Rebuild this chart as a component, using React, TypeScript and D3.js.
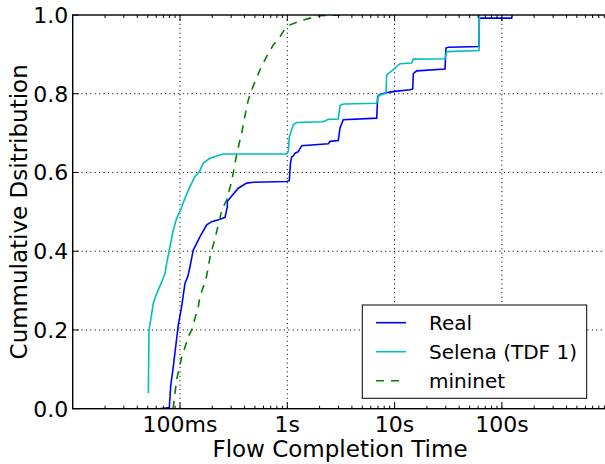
import React from "react";
import * as d3 from "d3";

// ---- data (time in seconds, cumulative fraction) ----
const realTime = [0.0641, 0.0795, 0.0819, 0.0866, 0.0912, 0.0964, 0.1037, 0.1113, 0.118, 0.122, 0.133, 0.1536, 0.1773, 0.1974, 0.236, 0.2627, 0.276, 0.276, 0.2924, 0.3495, 0.4183, 0.482, 0.987, 1.044, 1.07, 1.099, 1.137, 1.18, 1.266, 1.362, 2.411, 2.5, 2.988, 3.098, 3.325, 6.81, 6.96, 7.31, 8.14, 9.06, 10.09, 13.92, 14.75, 14.94, 16.07, 29.5, 30.1, 31.7, 61.2, 61.6, 123.4, 125];
const realCdf = [0, 0.003, 0.058, 0.107, 0.158, 0.213, 0.26, 0.319, 0.335, 0.352, 0.403, 0.437, 0.467, 0.475, 0.481, 0.486, 0.513, 0.526, 0.535, 0.56, 0.573, 0.575, 0.577, 0.579, 0.624, 0.64, 0.642, 0.649, 0.653, 0.668, 0.673, 0.679, 0.681, 0.713, 0.734, 0.738, 0.793, 0.798, 0.802, 0.804, 0.806, 0.81, 0.812, 0.851, 0.858, 0.863, 0.916, 0.918, 0.92, 0.992, 0.992, 1.0];

const selenaTime = [0.0507, 0.0514, 0.0533, 0.0564, 0.0607, 0.0675, 0.0725, 0.0752, 0.0807, 0.0866, 0.0932, 0.1, 0.1113, 0.1239, 0.1379, 0.1513, 0.1649, 0.1904, 0.2198, 0.2532, 0.987, 1.0217, 1.044, 1.06, 1.137, 1.223, 2.165, 2.411, 2.988, 3.098, 3.325, 6.81, 7.05, 7.31, 7.85, 8.32, 8.44, 9.72, 10.83, 11.23, 14.43, 14.94, 29.5, 30.6, 61.2, 61.6];
const selenaCdf = [0.039, 0.2, 0.225, 0.268, 0.293, 0.322, 0.344, 0.37, 0.412, 0.454, 0.484, 0.501, 0.535, 0.564, 0.59, 0.602, 0.624, 0.636, 0.642, 0.647, 0.647, 0.653, 0.69, 0.696, 0.721, 0.727, 0.729, 0.735, 0.736, 0.77, 0.774, 0.776, 0.793, 0.797, 0.799, 0.803, 0.848, 0.861, 0.873, 0.876, 0.878, 0.888, 0.889, 0.907, 0.91, 1.0];

const mininetTime = [0.0855, 0.0866, 0.0932, 0.1037, 0.1195, 0.1285, 0.148, 0.1536, 0.171, 0.1773, 0.1835, 0.1904, 0.212, 0.236, 0.2447, 0.2723, 0.282, 0.303, 0.3256, 0.3377, 0.3624, 0.3758, 0.4183, 0.4331, 0.4658, 0.5566, 0.6427, 0.7404, 0.855, 0.952, 1.06, 1.3135, 1.628, 2.017, 3.1];
const mininetCdf = [0, 0.004, 0.075, 0.13, 0.183, 0.2, 0.259, 0.285, 0.322, 0.338, 0.36, 0.385, 0.433, 0.484, 0.505, 0.53, 0.547, 0.577, 0.624, 0.645, 0.683, 0.7, 0.767, 0.784, 0.81, 0.861, 0.895, 0.924, 0.945, 0.965, 0.975, 0.985, 0.992, 0.998, 1.0];

const xTickValues = [0.1, 1, 10, 100];
const xTickLabels = ["100ms", "1s", "10s", "100s"];
const yTickValues = [0, 0.2, 0.4, 0.6, 0.8, 1.0];
const yTickLabels = ["0.0", "0.2", "0.4", "0.6", "0.8", "1.0"];
const legendLabels = ["Real", "Selena (TDF 1)", "mininet"];

const FONT = "'DejaVu Sans', sans-serif";

export default function App() {
  const W = 605, H = 464;
  const left = 72.7, top = 15, right = 609.2, bottom = 408.7;
  const x = d3.scaleLog().domain([0.01, 1000]).range([left, right]);
  const y = d3.scaleLinear().domain([0, 1]).range([bottom, top]);

  const mk = (ts: number[], ps: number[]) =>
    d3.line<number>().x((_, i) => x(ts[i])).y((_, i) => y(ps[i]))(ts.map((_, i) => i)) || "";

  const series = [
    { path: mk(realTime, realCdf), color: "#0000ff", dash: undefined as string | undefined },
    { path: mk(selenaTime, selenaCdf), color: "#00bfbf", dash: undefined },
    { path: mk(mininetTime, mininetCdf), color: "#008000", dash: "8,7" },
  ];

  const minor: number[] = [];
  for (let d = -2; d <= 2; d++) for (let k = 2; k <= 9; k++) minor.push(k * Math.pow(10, d));

  const lx = 362.3, ly = 305, lw = 224.4, lh = 93.3;

  return (
    <svg width={W} height={H} style={{ position: "absolute", left: 0, top: 0, background: "#fff" }} fontFamily={FONT}>
      <defs>
        <clipPath id="plot">
          <rect x={left} y={top} width={right - left} height={bottom - top} />
        </clipPath>
      </defs>
      <rect x={0} y={0} width={W} height={H} fill="#fff" />
      {/* grid */}
      {xTickValues.map((v) => (
        <line key={"gx" + v} x1={x(v)} x2={x(v)} y1={top} y2={bottom} stroke="#000" strokeWidth={1} strokeDasharray="1.1,3.3" />
      ))}
      {yTickValues.slice(1, -1).map((v) => (
        <line key={"gy" + v} x1={left} x2={right} y1={y(v)} y2={y(v)} stroke="#000" strokeWidth={1} strokeDasharray="1.1,3.3" />
      ))}
      {/* series */}
      <g clipPath="url(#plot)">
        {series.map((s, i) => (
          <path key={i} d={s.path} fill="none" stroke={s.color} strokeWidth={1.6} strokeDasharray={s.dash} />
        ))}
      </g>
      {/* ticks */}
      {minor.map((v) => (
        <g key={"m" + v}>
          <line x1={x(v)} x2={x(v)} y1={bottom} y2={bottom - 3} stroke="#000" strokeWidth={1} />
          <line x1={x(v)} x2={x(v)} y1={top} y2={top + 3} stroke="#000" strokeWidth={1} />
        </g>
      ))}
      {xTickValues.map((v) => (
        <g key={"t" + v}>
          <line x1={x(v)} x2={x(v)} y1={bottom} y2={bottom - 6} stroke="#000" strokeWidth={1} />
          <line x1={x(v)} x2={x(v)} y1={top} y2={top + 6} stroke="#000" strokeWidth={1} />
        </g>
      ))}
      {yTickValues.map((v) => (
        <line key={"yt" + v} x1={left} x2={left + 6} y1={y(v)} y2={y(v)} stroke="#000" strokeWidth={1} />
      ))}
      {/* spines */}
      <rect x={left} y={top} width={right - left} height={bottom - top} fill="none" stroke="#000" strokeWidth={1.4} />
      {/* tick labels */}
      {xTickValues.map((v, i) => (
        <text key={"xl" + v} x={x(v)} y={432} fontSize={22} textAnchor="middle" fill="#000">{xTickLabels[i]}</text>
      ))}
      {yTickValues.map((v, i) => (
        <text key={"yl" + v} x={68.3} y={y(v) + 8} fontSize={22} textAnchor="end" fill="#000">{yTickLabels[i]}</text>
      ))}
      {/* axis labels */}
      <text x={340} y={457} fontSize={23} textAnchor="middle" fill="#000">Flow Completion Time</text>
      <text transform={`translate(27,${(top + bottom) / 2}) rotate(-90)`} fontSize={23} textAnchor="middle" fill="#000">Cummulative Dsitribution</text>
      {/* legend */}
      <rect x={lx} y={ly} width={lw} height={lh} fill="#fff" stroke="#000" strokeWidth={1} />
      {legendLabels.map((lab, i) => {
        const yy = 322.7 + i * 29;
        return (
          <g key={lab}>
            <line x1={376} x2={406} y1={yy} y2={yy} stroke={series[i].color} strokeWidth={1.6} strokeDasharray={series[i].dash} />
            <text x={429} y={yy + 7} fontSize={20} fill="#000">{lab}</text>
          </g>
        );
      })}
    </svg>
  );
}
